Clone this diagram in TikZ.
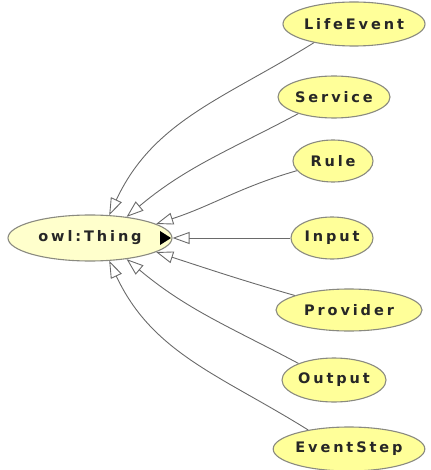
\documentclass[tikz,border=0pt]{standalone}
\usepackage{fontspec}
\setmainfont[LetterSpace=20]{DejaVu Sans}
\usetikzlibrary{arrows.meta,shapes.geometric}
\definecolor{classfill}{HTML}{FFFF99}
\definecolor{rootfill}{HTML}{FFFFCC}
\definecolor{rim}{HTML}{8A8A80}
\definecolor{link}{HTML}{6A6A6A}
\tikzset{
  cls/.style={ellipse, draw=rim, line width=1.1pt, fill=classfill, inner sep=0pt,
    font=\bfseries\fontsize{14.5}{16}\selectfont, text=black!85},
  root/.style={cls, fill=rootfill},
  isa/.style={draw=link, line width=0.9pt,
    -{Triangle[open, length=17pt, width=12pt, line width=0.9pt]}},
}
\begin{document}
\begin{tikzpicture}[x=1pt, y=1pt]
  \useasboundingbox (0,0) rectangle (430,-470);

  % root class
  \node[root, minimum width=164pt, minimum height=46pt] (thing) at (90,-238) {owl:Thing};
  \fill (160,-231) -- (171,-238) -- (160,-245) -- cycle;

  % subclasses
  \node[cls, minimum width=142pt, minimum height=44pt] (life)  at (354,-24)  {LifeEvent};
  \node[cls, minimum width=112pt, minimum height=42pt] (serv)  at (334,-97)  {Service};
  \node[cls, minimum width=80pt,  minimum height=42pt] (rule)  at (333,-161) {Rule};
  \node[cls, minimum width=82pt,  minimum height=42pt] (input) at (332,-238) {Input};
  \node[cls, minimum width=146pt, minimum height=42pt] (prov)  at (349,-310) {Provider};
  \node[cls, minimum width=104pt, minimum height=44pt] (out)   at (334,-380) {Output};
  \node[cls, minimum width=142pt, minimum height=44pt] (step)  at (349,-449) {EventStep};

  % subclass-of links
  \draw[isa] (life.205)  to[out=212, in=65]  (thing.50);
  \draw[isa] (serv.205)  to[out=208, in=40]  (thing.30);
  \draw[isa] (rule.195)  to[out=196, in=18]  (thing.12);
  \draw[isa] (input.west) -- (thing.east);
  \draw[isa] (prov.165)  to[out=164, in=-18] (thing.-12);
  \draw[isa] (out.155)   to[out=152, in=-40] (thing.-30);
  \draw[isa] (step.155)  to[out=148, in=-65] (thing.-50);
\end{tikzpicture}
\end{document}
